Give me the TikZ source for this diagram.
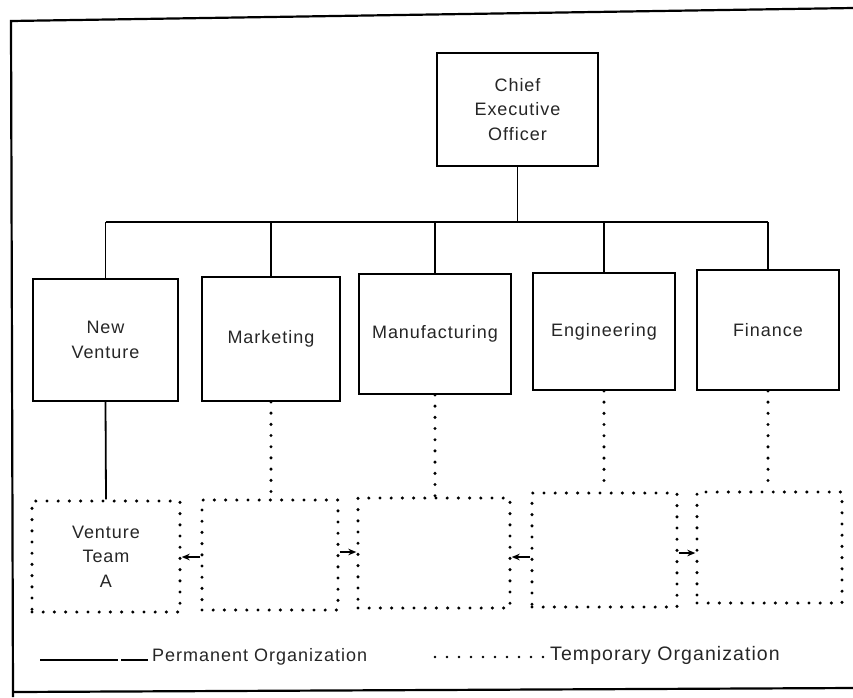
\documentclass[tikz,border=0pt]{standalone}
\usepackage{fontspec}
\setmainfont[LetterSpace=5.5]{Liberation Sans}
\usetikzlibrary{arrows.meta}

\tikzset{
  labeltext/.style={font=\fontsize{18}{24.5}\selectfont, text=black!85, align=center},
  permbox/.style={draw, line width=1.8pt, inner sep=0pt, labeltext},
  tempbox/.style={draw, line width=3.4pt, dash pattern=on 0pt off 11.2pt,
                  line cap=round, inner sep=0pt, labeltext},
  permline/.style={line width=1.8pt},
  templine/.style={line width=3.4pt, dash pattern=on 0pt off 11.2pt, line cap=round},
  flow/.style={line width=1.8pt, -{Stealth[length=8pt,width=6.5pt]}},
  frame/.style={line width=2.2pt},
}

\begin{document}
\begin{tikzpicture}[x=1pt,y=-1pt]
  \useasboundingbox (0,0) rectangle (853,697);
  \fill[white] (0,0) rectangle (853,697);

  % page frame
  \coordinate (fTL) at (11,21);
  \coordinate (fTR) at (853,8);
  \coordinate (fBL) at (13,697);
  \coordinate (fBL2) at (13,692);
  \coordinate (fBR) at (853,688);
  \draw[frame] (fTR) -- (fTL) -- (fBL);
  \draw[frame] (fBL2) -- (fBR);

  % chief executive
  \node[permbox, minimum width=161pt, minimum height=113pt]
    (ceo) at (517.5,109.5) {Chief\\Executive\\Officer};

  % permanent departments
  \node[permbox, minimum width=145pt, minimum height=122pt] (nv)  at (105.5,340) {New\\Venture};
  \node[permbox, minimum width=138pt, minimum height=124pt] (mkt) at (271,339)   {Marketing};
  \node[permbox, minimum width=152pt, minimum height=120pt] (mfg) at (435,334)   {Manufacturing};
  \node[permbox, minimum width=142pt, minimum height=117pt] (eng) at (604,331.5) {Engineering};
  \node[permbox, minimum width=142pt, minimum height=120pt] (fin) at (768,330)   {Finance};

  % temporary units
  \node[tempbox, minimum width=148pt, minimum height=111pt] (t1) at (106,556.5) {Venture\\Team\\A};
  \node[tempbox, minimum width=136pt, minimum height=110pt] (t2) at (270,555) {};
  \node[tempbox, minimum width=152pt, minimum height=110pt] (t3) at (434,553) {};
  \node[tempbox, minimum width=145pt, minimum height=114pt] (t4) at (604.5,550) {};
  \node[tempbox, minimum width=145pt, minimum height=111pt] (t5) at (769.5,547.5) {};

  % reporting lines
  \coordinate (bus) at (517.5,222);
  \draw[permline] (ceo.south) -- (bus);
  \draw[permline] (nv.north |- bus) -- (fin.north |- bus);
  \foreach \d in {nv,mkt,mfg,eng,fin}
    \draw[permline] (\d.north) -- (\d.north |- bus);

  % links to temporary units
  \draw[permline] (nv.south) -- (t1.north);
  \draw[templine] (mkt.south) -- (mkt.south |- t2.north);
  \draw[templine] (mfg.south) -- (mfg.south |- t3.north);
  \draw[templine] (eng.south) -- (eng.south |- t4.north);
  \draw[templine] (fin.south) -- (fin.south |- t5.north);

  % exchanges between temporary units
  \coordinate (a12) at (0,557);
  \coordinate (a23) at (0,552);
  \coordinate (a34) at (0,557);
  \coordinate (a45) at (0,553);
  \draw[flow] (t2.west |- a12) -- (t1.east |- a12);
  \draw[flow] (t2.east |- a23) -- (t3.west |- a23);
  \draw[flow] (t4.west |- a34) -- (t3.east |- a34);
  \draw[flow] (t4.east |- a45) -- (t5.west |- a45);

  % legend
  \coordinate (lp1) at (40,660);
  \coordinate (lp2) at (118,660);
  \coordinate (lp3) at (121,660);
  \coordinate (lp4) at (148,660);
  \draw[permline, line width=1.5pt] (lp1) -- (lp2) (lp3) -- (lp4);
  \node[labeltext, anchor=west, inner sep=0pt] (perm) at (152,657) {Permanent Organization};
  \coordinate (lt1) at (435,657);
  \coordinate (lt2) at (543,657);
  \draw[templine, line width=2.8pt, dash pattern=on 0pt off 12pt] (lt1) -- (lt2);
  \node[labeltext, anchor=west, inner sep=0pt, font=\fontsize{19.5}{24}\selectfont]
    (temp) at (550,655) {Temporary Organization};
\end{tikzpicture}
\end{document}
